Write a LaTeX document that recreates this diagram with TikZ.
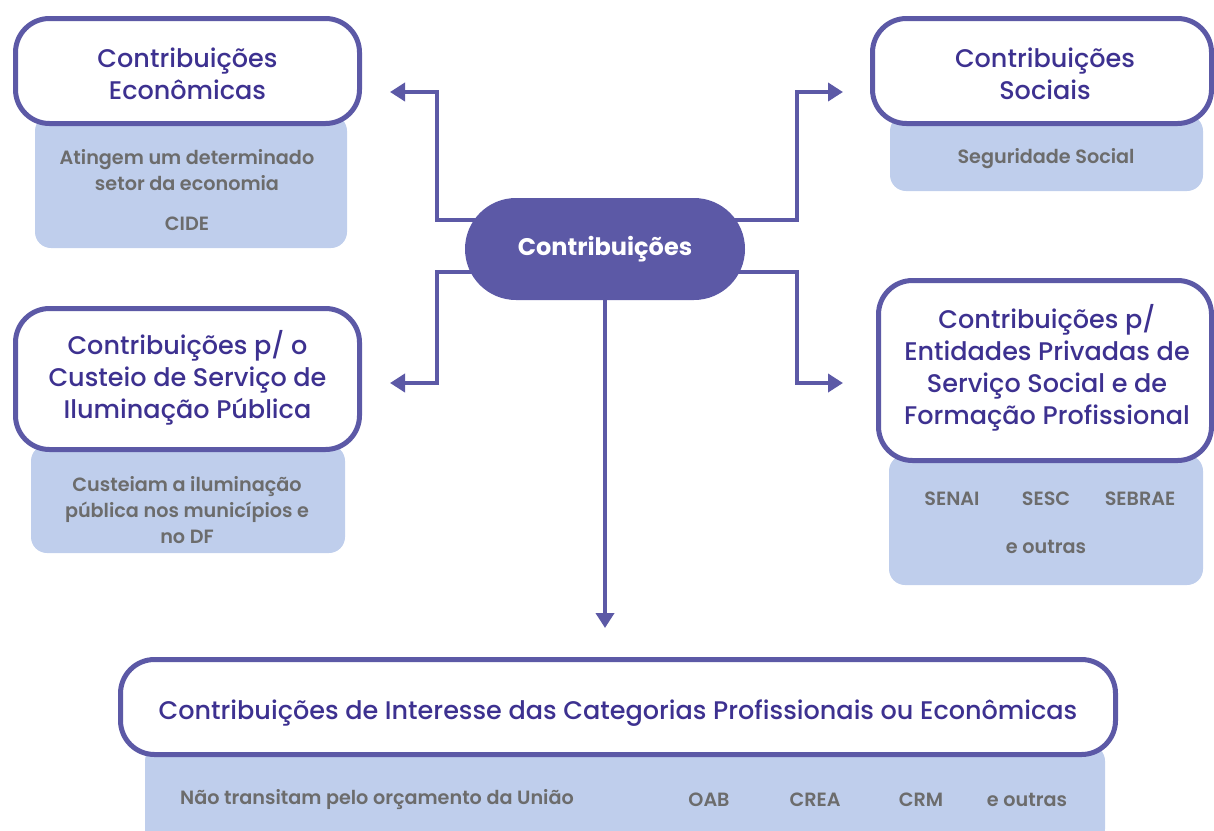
\documentclass[tikz,border=0pt]{standalone}
\usepackage{fontspec}
\setmainfont{Poppins}[UprightFont=* Medium, BoldFont=* SemiBold]
\newfontfamily\pbold{Poppins}[UprightFont=* Bold]
\usetikzlibrary{arrows.meta,calc}
\definecolor{pline}{HTML}{5C59A6}
\definecolor{ptext}{HTML}{3D3190}
\definecolor{gtext}{HTML}{6C6C6C}
\definecolor{bfill}{HTML}{BFCEEC}
\pgfdeclarelayer{bg}
\pgfsetlayers{bg,main}
\tikzset{
 whitebox/.style={draw=pline, line width=5pt, fill=white, rounded corners=34pt, inner sep=0pt},
 titletxt/.style={text=ptext, align=center, font=\fontsize{25.5}{32}\selectfont, inner sep=0pt},
 bluebox/.style={fill=bfill, rounded corners=16pt, inner sep=0pt},
 graytxt/.style={text=gtext, font=\bfseries\fontsize{19.2}{26}\selectfont, align=center, inner sep=0pt},
 conn/.style={draw=pline, line width=4.5pt, -{Triangle[length=15pt,width=18pt]}},
}
\begin{document}
\begin{tikzpicture}[x=1pt,y=-1pt]
\useasboundingbox (0,0) rectangle (1214,830);
% blue boxes
\node[bluebox, minimum width=312pt, minimum height=133pt] (econB) at (191,181.5) {};
\node[bluebox, minimum width=313pt, minimum height=76pt] (socB) at (1046.5,153) {};
\node[bluebox, minimum width=314pt, minimum height=108pt] (ilumB) at (188,499) {};
\node[bluebox, minimum width=314pt, minimum height=130pt] (entB) at (1046,520) {};
\node[bluebox, minimum width=960pt, minimum height=100pt] (botB) at (625,795) {};
% white boxes
\node[whitebox, minimum width=344pt, minimum height=105pt] (econ) at (187.5,71) {};
\node[whitebox, minimum width=339pt, minimum height=105pt] (soc) at (1042,71) {};
\node[whitebox, minimum width=344pt, minimum height=141pt] (ilum) at (187.5,379) {};
\node[whitebox, minimum width=333pt, minimum height=180pt] (ent) at (1045,370.5) {};
\node[whitebox, minimum width=995pt, minimum height=95pt] (bot) at (618,707) {};
% titles
\node[titletxt] (econT) at (187.5,74) {Contribuições\\Econômicas};
\node[titletxt] (socT) at (1045,74) {Contribuições\\Sociais};
\node[titletxt] (ilumT) at (187.5,378) {Contribuições p/ o\\Custeio de Serviço de\\Iluminação Pública};
\node[titletxt] (entT) at (1047,367.5) {Contribuições p/\\Entidades Privadas de\\Serviço Social e de\\Formação Profissional};
\node[titletxt] (botT) at (618,713) {Contribuições de Interesse das Categorias Profissionais ou Econômicas};
% gray texts
\node[graytxt] (t1) at (187,170) {Atingem um determinado\\setor da economia};
\node[graytxt] (t2) at (187,224) {CIDE};
\node[graytxt] (t3) at (1046,159) {Seguridade Social};
\node[graytxt] (t4) at (187,510) {Custeiam a iluminação\\pública nos municípios e\\no DF};
\node[graytxt] (t5) at (952,499) {SENAI};
\node[graytxt] (t6) at (1046,499) {SESC};
\node[graytxt] (t7) at (1140,499) {SEBRAE};
\node[graytxt] (t8) at (1046,547) {e outras};
\node[graytxt] (t9) at (377,800) {Não transitam pelo orçamento da União};
\node[graytxt] (t10) at (709,800) {OAB};
\node[graytxt] (t11) at (815,800) {CREA};
\node[graytxt] (t12) at (921,800) {CRM};
\node[graytxt] (t13) at (1027,800) {e outras};
% central
\node[fill=pline, rounded corners=51pt, minimum width=280pt, minimum height=102pt, text=white, font=\pbold\fontsize{24}{28}\selectfont, inner sep=0pt] (c) at (605,249) {Contribuições};
% arrow ends
\coordinate (a1) at (390,92);
\coordinate (a2) at (390,383);
\coordinate (a3) at (843,92);
\coordinate (a4) at (843,383);
\coordinate (a5) at (605,628);
\begin{pgfonlayer}{bg}
\draw[conn] (c.center |- 0,220) -| ($(a1)+(47,0)$) -- (a1);
\draw[conn] (c.center |- 0,272) -| ($(a2)+(47,0)$) -- (a2);
\draw[conn] (c.center |- 0,220) -| ($(a3)+(-46,0)$) -- (a3);
\draw[conn] (c.center |- 0,272) -| ($(a4)+(-46,0)$) -- (a4);
\draw[conn] (c.center) -- (a5);
\end{pgfonlayer}
\end{tikzpicture}
\end{document}
